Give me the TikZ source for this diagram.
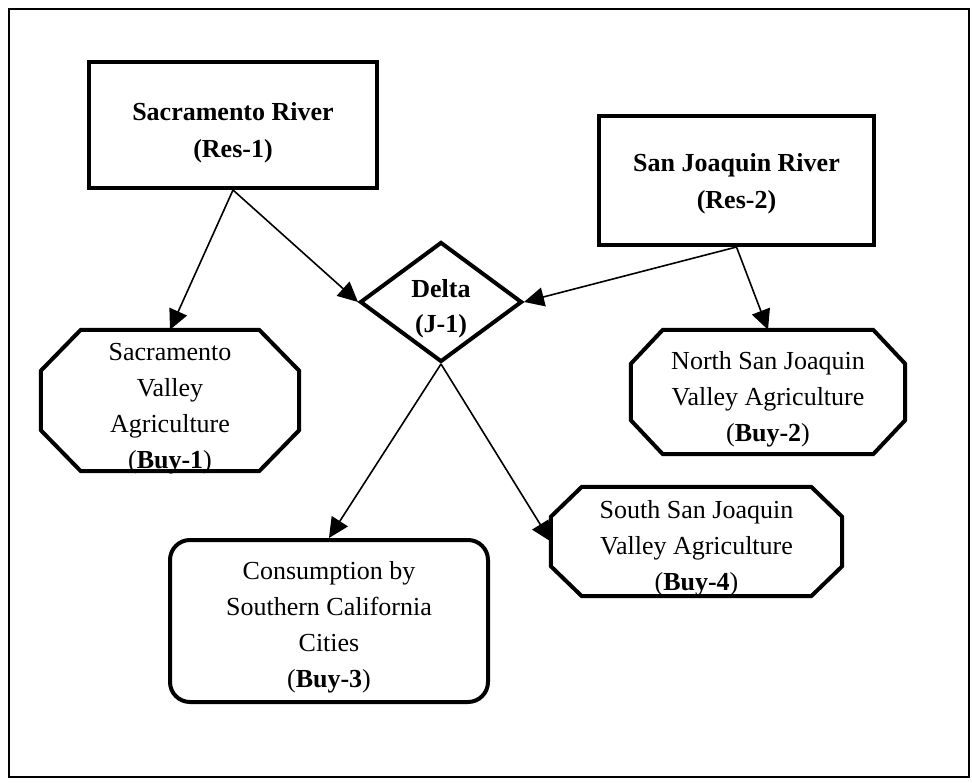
\documentclass[tikz,border=0pt]{standalone}
\usepackage{fontspec}
\setmainfont{Liberation Serif}
\usetikzlibrary{shapes.geometric, arrows.meta, positioning}

% border of a buyer node, cut at the corners
\newcommand{\octoutline}[3]{%
  \draw[line width=4pt, line join=miter]
    ([xshift=#2]#1.north west) -- ([xshift=-#2]#1.north east)
    -- ([yshift=-#3]#1.north east) -- ([yshift=#3]#1.south east)
    -- ([xshift=-#2]#1.south east) -- ([xshift=#2]#1.south west)
    -- ([yshift=#3]#1.south west) -- ([yshift=-#3]#1.north west) -- cycle;}

\begin{document}
\begin{tikzpicture}[
    x=1pt, y=-1pt,
    every node/.style={font=\fontsize{26}{36}\selectfont},
    river/.style={rectangle, draw, line width=4pt, inner sep=0pt, align=center, font=\fontsize{26}{37}\selectfont\bfseries},
    junction/.style={diamond, aspect=1.4, draw, line width=4pt, inner sep=0pt, align=center, font=\fontsize{26}{35}\selectfont\bfseries},
    buyer/.style={rectangle, inner sep=0pt, align=center},
    city/.style={rectangle, draw, line width=4pt, rounded corners=20pt, inner sep=0pt, align=center},
    arrow/.style={line width=1.6pt,->,>={Triangle[length=20pt,width=19pt]}}
]
\useasboundingbox (0,0) rectangle (972,783);
\draw[line width=2pt] (9,9) rectangle (969,777);

\node[river, minimum width=288pt, minimum height=126pt, text height=70pt] (sacriver) at (233,125) {Sacramento River\\(Res-1)};
\node[river, minimum width=275pt, minimum height=129pt, text height=61pt] (sjriver) at (736.5,180.5) {San Joaquin River\\(Res-2)};
\node[junction, minimum width=162pt, minimum height=120pt, text height=67pt] (delta) at (441,302) {Delta\\(J-1)};

\node[buyer, minimum width=258pt, minimum height=141pt, text height=136pt, text depth=0pt] (sacvalley) at (170,400.5) {Sacramento\\Valley\\Agriculture\\(\textbf{Buy-1})};
\node[buyer, minimum width=274pt, minimum height=124pt, text height=104pt] (northsj) at (768,392) {North San Joaquin\\Valley Agriculture\\(\textbf{Buy-2})};
\node[city, minimum width=318pt, minimum height=162pt, text height=139pt] (cities) at (329,621) {Consumption by\\Southern California\\Cities\\(\textbf{Buy-3})};
\node[buyer, minimum width=291pt, minimum height=109pt, text height=103pt] (southsj) at (696.5,541.5) {South San Joaquin\\Valley Agriculture\\(\textbf{Buy-4})};

\octoutline{sacvalley}{40pt}{41pt}
\octoutline{northsj}{32pt}{34pt}
\octoutline{southsj}{31pt}{30pt}

\draw[arrow] (sacriver.south) -- (sacvalley.north);
\draw[arrow] (sacriver.south) -- (delta.west);
\draw[arrow] (sjriver.south) -- (delta.east);
\draw[arrow] (sjriver.south) -- (northsj.north);
\draw[arrow] (delta.south) -- (cities.north);
\draw[arrow] (delta.south) -- (southsj.west);

\end{tikzpicture}
\end{document}
